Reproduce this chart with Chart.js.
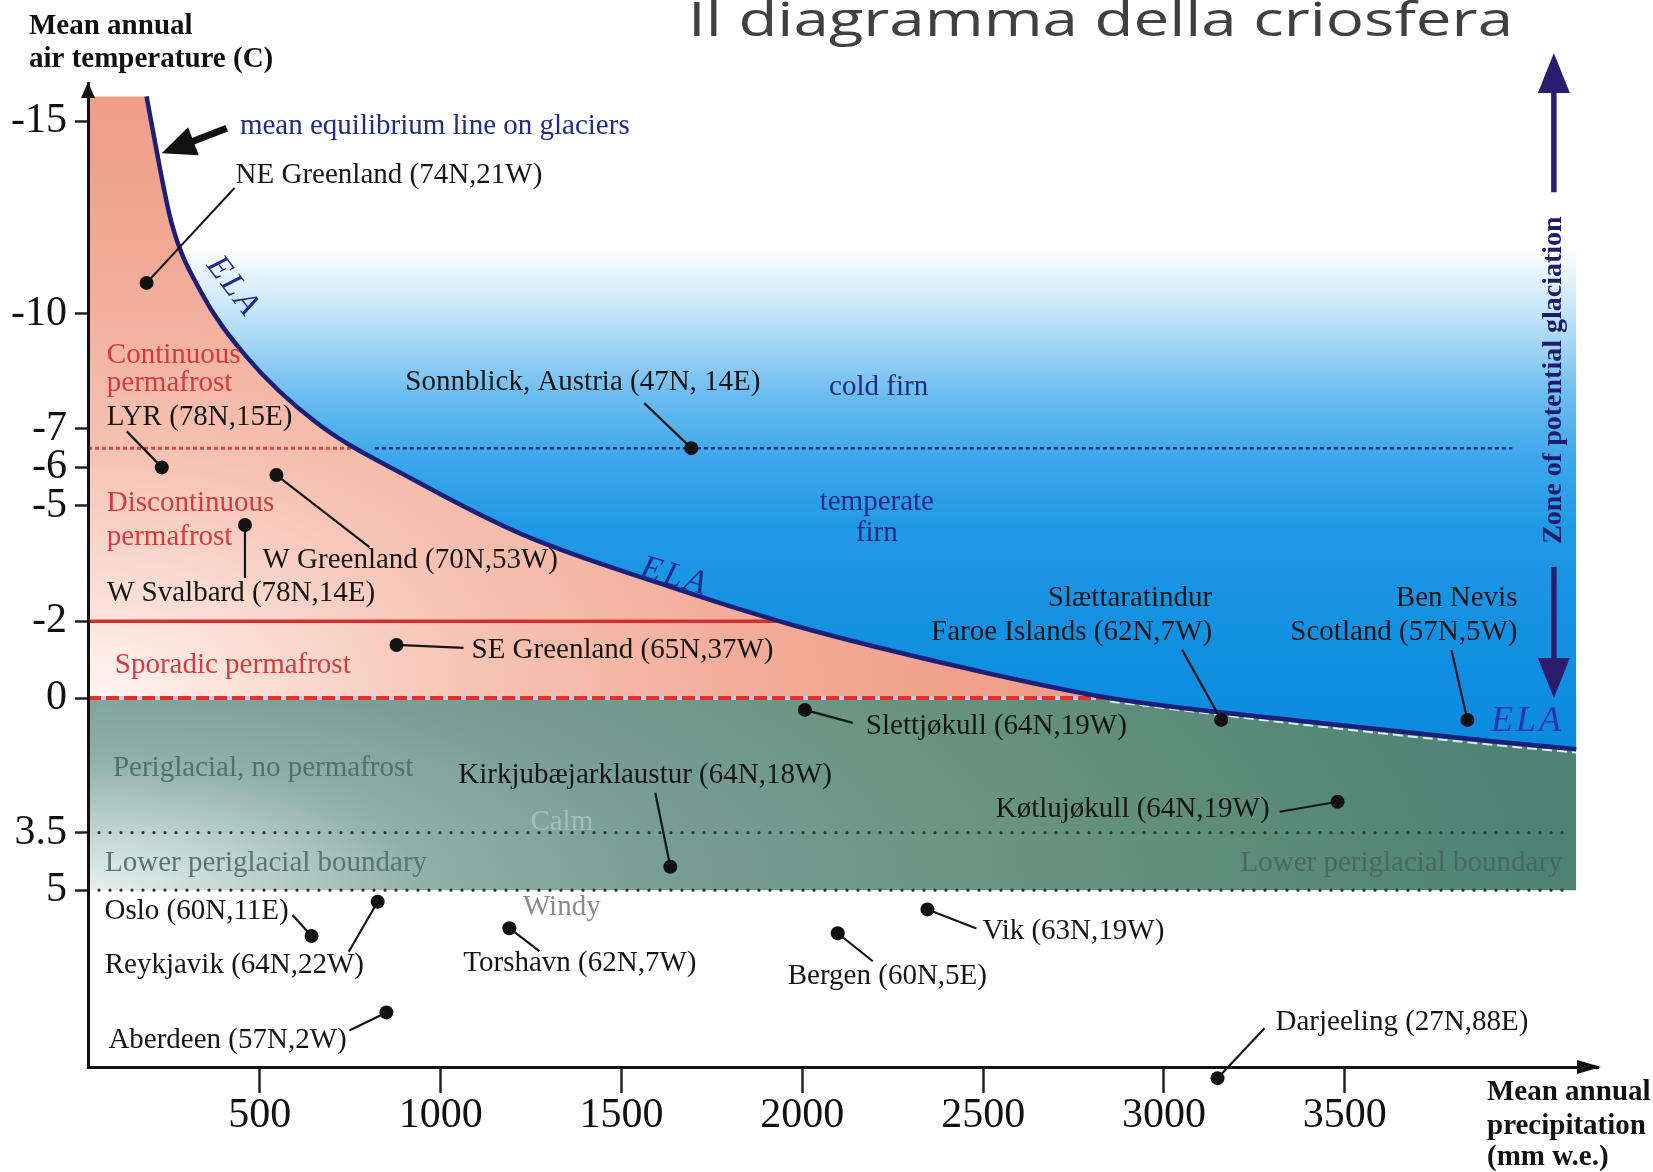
<!DOCTYPE html>
<html>
<head>
<meta charset="utf-8">
<script src="https://cdn.jsdelivr.net/npm/chart.js@4/dist/chart.umd.min.js"></script>
<style>
  html, body { margin: 0; padding: 0; background: #ffffff; }
  #wrap { width: 1653px; height: 1172px; position: relative; }
  canvas { display: block; }
</style>
</head>
<body>
<div id="wrap"><canvas id="cryo" width="1653" height="1172"></canvas></div>
<script>
// ---------------------------------------------------------------
// Cryosphere diagram: mean annual precipitation vs mean annual air
// temperature, with the glacier equilibrium line (ELA), permafrost
// zones and climate stations.
// ---------------------------------------------------------------

// Equilibrium line on glaciers (precipitation mm w.e., temperature °C)
const elaPrecip = [187, 204, 256, 334, 463, 657, 915, 1227, 1600, 1973, 2450, 2850, 3400, 3900, 4140];
const elaTemp   = [-15.65, -14.78, -12.36, -10.62, -8.88, -7.16, -5.73, -4.25, -3.0, -1.9, -0.78, 0.0, 0.62, 1.12, 1.33];

// Climate stations
const placeNames = [
  ['NE Greenland (74N,21W)'],
  ['LYR (78N,15E)'],
  ['W Greenland (70N,53W)'],
  ['W Svalbard (78N,14E)'],
  ['SE Greenland (65N,37W)'],
  ['Sonnblick, Austria (47N, 14E)'],
  ['Slettjøkull (64N,19W)'],
  ['Slættaratindur', 'Faroe Islands (62N,7W)'],
  ['Ben Nevis', 'Scotland (57N,5W)'],
  ['Kirkjubæjarklaustur (64N,18W)'],
  ['Køtlujøkull (64N,19W)'],
  ['Oslo (60N,11E)'],
  ['Reykjavik (64N,22W)'],
  ['Torshavn (62N,7W)'],
  ['Bergen (60N,5E)'],
  ['Vik (63N,19W)'],
  ['Aberdeen (57N,2W)'],
  ['Darjeeling (27N,88E)']
];
const placePrecip = [187, 229, 546, 459, 878, 1693, 2007, 3158, 3839, 1635, 3480, 643, 826, 1190, 2098, 2346, 850, 3148];
const placeTemp   = [-10.8, -6.0, -5.8, -4.5, -1.38, -6.5, 0.31, 0.57, 0.57, 4.39, 2.7, 6.19, 5.3, 5.99, 6.12, 5.5, 8.18, 9.89];

// Axis ticks
const xTickValues = [500, 1000, 1500, 2000, 2500, 3000, 3500];
const yTickValues = [-15, -10, -7, -6, -5, -2, 0, 3.5, 5];

// Zone boundaries (°C) and extents (mm)
const continuousLimit = -6.5;
const discontinuousLimit = -2;
const permafrostLimit = 0;
const calmLimit = 3.5;
const periglacialLimit = 5;
const firnLineRange = [818, 3963];
const periglacialLineEnd = 4108;
const xRange = [25, 4200];
const yRange = [-16, 9.6];

// ---------------------------------------------------------------
const pts = (xs, ys) => xs.map((x, i) => ({ x, y: ys[i] }));
const ela = pts(elaPrecip, elaTemp);
const elaEnd = elaPrecip[elaPrecip.length - 1];

// precipitation at which the equilibrium line reaches a given temperature
function elaCrossing(t) {
  for (let i = 0; i < elaTemp.length - 1; i++) {
    const a = elaTemp[i] - t, b = elaTemp[i + 1] - t;
    if (a * b <= 0 && elaTemp[i + 1] !== elaTemp[i]) {
      return elaPrecip[i] + (t - elaTemp[i]) / (elaTemp[i + 1] - elaTemp[i]) * (elaPrecip[i + 1] - elaPrecip[i]);
    }
  }
  return elaEnd;
}
const cross0 = elaCrossing(permafrostLimit);
const crossCont = elaCrossing(continuousLimit);
const crossDisc = elaCrossing(discontinuousLimit);

const navy = '#222a86';
const red = '#d63a3c';
const ink = '#161616';
const serif = '"Liberation Serif", "Times New Roman", serif';

// ---------------------------------------------------------------
// zone textures painted once into off-screen canvases
const zoneCache = {};
const glacierStops = [[-16, '#ffffff'], [-11.8, '#ffffff'], [-10.6, '#d9eefb'], [-9.2, '#a3d6f5'],
  [-7.8, '#69bbef'], [-6.3, '#3ea8eb'], [-4.5, '#2299e6'], [-1.5, '#1290e2'], [2, '#0a89dd']];
const permafrostStops = [[0, '#fff6f3'], [100, '#fbe0d7'], [250, '#f6c2b3'], [400, '#f3ae9b'], [550, '#f0a08b'], [700, '#ee9782']];
const periglacialStops = [[0, '#e6f0ee'], [60, '#c0d5d0'], [130, '#90b0a8'], [220, '#799e95'], [380, '#66917f'], [560, '#4e8373']];

function zoneFill(chart, kind) {
  if (!chart.chartArea || !chart.scales.y) return 'rgba(0,0,0,0)';
  const key = kind + chart.width + 'x' + chart.height;
  if (zoneCache[key]) return zoneCache[key];
  const w = chart.width, h = chart.height;
  const cv = document.createElement('canvas');
  cv.width = w; cv.height = h;
  const g = cv.getContext('2d');
  const xs = chart.scales.x, ys = chart.scales.y;
  if (kind === 'glacier') {
    const grad = g.createLinearGradient(0, 0, 0, h);
    glacierStops.forEach(([t, c]) => grad.addColorStop(Math.min(1, Math.max(0, ys.getPixelForValue(t) / h)), c));
    g.fillStyle = grad;
    g.fillRect(0, 0, w, h);
  } else {
    const stops = kind === 'permafrost' ? permafrostStops : periglacialStops;
    const cx = xs.getPixelForValue(xRange[0]);
    const cy = ys.getPixelForValue(kind === 'permafrost' ? permafrostLimit : periglacialLimit);
    const sx = kind === 'permafrost' ? 1.6 : 2.6;
    const R = stops[stops.length - 1][0];
    g.save();
    g.translate(cx, cy);
    g.scale(sx, 1);
    const grad = g.createRadialGradient(0, 0, 0, 0, 0, R);
    stops.forEach(([r, c]) => grad.addColorStop(r / R, c));
    g.fillStyle = grad;
    g.fillRect(-cx / sx - 5, -cy - 5, w / sx + 10, h + 10);
    g.restore();
  }
  zoneCache[key] = chart.ctx.createPattern(cv, 'no-repeat');
  return zoneCache[key];
}

// ---------------------------------------------------------------
// Layout of station labels: leader end and text anchor, in pixels from the dot
const placeLabelLayout = [
  [88, -95, 89, -107, 'left'],
  [-35, -36, -55, -50, 'left'],
  [93, 72, -14, 85, 'left'],
  [0, 53, -138, 68, 'left'],
  [67, 3, 75, 5, 'left'],
  [-47, -45, -286, -66, 'left'],
  [48, 13, 61, 16, 'left'],
  [-39, -70, -9, -122, 'right'],
  [-16, -70, 50, -122, 'right'],
  [-15, -74, -212, -91, 'left'],
  [-58, 10, -68, 8, 'right'],
  [-19, -21, -207, -25, 'left'],
  [-29, 50, -273, 64, 'left'],
  [30, 23, -46, 35, 'left'],
  [35, 28, -50, 43, 'left'],
  [49, 19, 55, 22, 'left'],
  [-37, 18, -278, 28, 'left'],
  [47, -50, 58, -56, 'left']
];

// Zone captions placed in data coordinates
const zoneNotes = [
  { text: 'mean equilibrium line on glaciers', p: 445, t: -14.88, align: 'left', color: navy },
  { text: 'Continuous', p: 77, t: -8.92, align: 'left', color: red },
  { text: 'permafrost', p: 77, t: -8.19, align: 'left', color: red },
  { text: 'Discontinuous', p: 77, t: -5.07, align: 'left', color: red },
  { text: 'permafrost', p: 77, t: -4.19, align: 'left', color: red },
  { text: 'Sporadic permafrost', p: 99, t: -0.86, align: 'left', color: red },
  { text: 'cold firn', p: 2211, t: -8.09, align: 'center', color: navy },
  { text: 'temperate', p: 2206, t: -5.10, align: 'center', color: navy },
  { text: 'firn', p: 2206, t: -4.29, align: 'center', color: navy },
  { text: 'Periglacial, no permafrost', p: 94, t: 1.82, align: 'left', color: '#52716a' },
  { text: 'Calm', p: 1335, t: 3.23, align: 'center', color: '#a9bdb8' },
  { text: 'Lower periglacial boundary', p: 72, t: 4.29, align: 'left', color: '#587570' },
  { text: 'Lower periglacial boundary', p: 4102, t: 4.29, align: 'right', color: '#4a6861' },
  { text: 'Windy', p: 1335, t: 5.44, align: 'center', color: '#8a8a8a' }
];

const elaNotes = [
  { p: 426, t: -10.69, angle: 53, size: 33, color: '#1f2c8e' },
  { p: 1647, t: -3.15, angle: 16, size: 34, color: '#1f2c8e' },
  { p: 4005, t: 0.62, angle: 0, size: 36, color: '#2a36b0' }
];

const equilibriumArrow = { from: [408.5, -14.82], to: [228.8, -14.17] };
const glaciationArrow = { p: 4078, upTip: -16.78, upEnd: -13.16, downStart: -3.41, downTip: 0, textT: -8.27 };

// ---------------------------------------------------------------
function arrowHead(ctx, x1, y1, x2, y2, len, half) {
  const a = Math.atan2(y2 - y1, x2 - x1);
  ctx.beginPath();
  ctx.moveTo(x2, y2);
  ctx.lineTo(x2 - len * Math.cos(a) + half * Math.sin(a), y2 - len * Math.sin(a) - half * Math.cos(a));
  ctx.lineTo(x2 - len * Math.cos(a) - half * Math.sin(a), y2 - len * Math.sin(a) + half * Math.cos(a));
  ctx.closePath();
  ctx.fill();
}

const cryoPlugin = {
  id: 'cryoDecor',
  beforeDatasetDraw(chart, args) {
    const ds = chart.data.datasets[args.index];
    const ctx = chart.ctx;
    if (ds.pixelShift) {
      ctx.save();
      ctx.translate(0, ds.pixelShift);
    }
    if (ds.isStations) {
      // leader lines run under the station dots
      const xs = chart.scales.x, ys = chart.scales.y;
      ctx.save();
      ctx.strokeStyle = ink;
      ctx.lineWidth = 2.2;
      placePrecip.forEach((p, i) => {
        const x = xs.getPixelForValue(p), y = ys.getPixelForValue(placeTemp[i]);
        const L = placeLabelLayout[i];
        ctx.beginPath();
        ctx.moveTo(x, y);
        ctx.lineTo(x + L[0], y + L[1]);
        ctx.stroke();
      });
      ctx.restore();
    }
  },
  afterDatasetDraw(chart, args) {
    const ds = chart.data.datasets[args.index];
    const ctx = chart.ctx;
    if (ds.pixelShift) ctx.restore();
    if (ds.isStations) {
      // stations lying outside the plotting frame (e.g. below the x axis)
      const a = chart.chartArea;
      const meta = chart.getDatasetMeta(args.index);
      ctx.save();
      ctx.fillStyle = ds.pointBackgroundColor;
      meta.data.forEach(el => {
        if (el.x < a.left || el.x > a.right || el.y < a.top || el.y > a.bottom) {
          ctx.beginPath();
          ctx.arc(el.x, el.y, ds.pointRadius, 0, Math.PI * 2);
          ctx.fill();
        }
      });
      ctx.restore();
    }
  },
  afterDatasetsDraw(chart) {
    const ctx = chart.ctx;
    const xs = chart.scales.x, ys = chart.scales.y;
    const X = v => xs.getPixelForValue(v), Y = v => ys.getPixelForValue(v);
    ctx.save();
    ctx.textBaseline = 'middle';

    // zone captions
    ctx.font = '29px ' + serif;
    zoneNotes.forEach(n => {
      ctx.fillStyle = n.color;
      ctx.textAlign = n.align;
      ctx.fillText(n.text, X(n.p), Y(n.t));
    });

    // ELA labels along the curve
    elaNotes.forEach(n => {
      ctx.save();
      ctx.translate(X(n.p), Y(n.t));
      ctx.rotate(n.angle * Math.PI / 180);
      ctx.font = 'italic ' + n.size + 'px ' + serif;
      ctx.letterSpacing = '3px';
      ctx.fillStyle = n.color;
      ctx.textAlign = 'center';
      ctx.fillText('ELA', 0, 0);
      ctx.restore();
    });

    // station labels
    ctx.font = '29px ' + serif;
    ctx.fillStyle = ink;
    placePrecip.forEach((p, i) => {
      const x = X(p), y = Y(placeTemp[i]);
      const L = placeLabelLayout[i];
      ctx.textAlign = L[4];
      placeNames[i].forEach((line, k) => ctx.fillText(line, x + L[2], y + L[3] + k * 34));
    });

    // arrow pointing at the equilibrium line
    const a0x = X(equilibriumArrow.from[0]), a0y = Y(equilibriumArrow.from[1]);
    const a1x = X(equilibriumArrow.to[0]), a1y = Y(equilibriumArrow.to[1]);
    ctx.strokeStyle = '#111';
    ctx.fillStyle = '#111';
    ctx.lineWidth = 7;
    const ang = Math.atan2(a1y - a0y, a1x - a0x);
    ctx.beginPath();
    ctx.moveTo(a0x, a0y);
    ctx.lineTo(a1x - 28 * Math.cos(ang), a1y - 28 * Math.sin(ang));
    ctx.stroke();
    arrowHead(ctx, a0x, a0y, a1x, a1y, 34, 15);

    // zone of potential glaciation
    const gx = X(glaciationArrow.p);
    ctx.strokeStyle = '#2b1d6e';
    ctx.fillStyle = '#2b1d6e';
    ctx.lineWidth = 5.5;
    const upTip = Y(glaciationArrow.upTip), upEnd = Y(glaciationArrow.upEnd);
    const dnStart = Y(glaciationArrow.downStart), dnTip = Y(glaciationArrow.downTip);
    ctx.beginPath();
    ctx.moveTo(gx, upEnd); ctx.lineTo(gx, upTip + 30);
    ctx.moveTo(gx, dnStart); ctx.lineTo(gx, dnTip - 30);
    ctx.stroke();
    arrowHead(ctx, gx, upEnd, gx, upTip, 40, 16);
    arrowHead(ctx, gx, dnStart, gx, dnTip, 40, 16);
    ctx.save();
    ctx.translate(gx, Y(glaciationArrow.textT));
    ctx.rotate(-Math.PI / 2);
    ctx.font = 'bold 28px ' + serif;
    ctx.fillStyle = '#1f1b6b';
    ctx.textAlign = 'center';
    ctx.fillText('Zone of potential glaciation', 0, 0);
    ctx.restore();
    ctx.restore();
  },
  afterDraw(chart) {
    const ctx = chart.ctx;
    const area = chart.chartArea;
    ctx.save();
    // axis arrow heads
    ctx.fillStyle = '#111';
    arrowHead(ctx, area.left, area.top + 40, area.left, area.top - 1, 16, 7);
    arrowHead(ctx, area.right - 40, area.bottom, area.right + 3, area.bottom, 24, 7);

    // axis titles
    ctx.font = 'bold 29px ' + serif;
    ctx.fillStyle = '#111';
    ctx.textAlign = 'left';
    ctx.textBaseline = 'middle';
    ctx.fillText('Mean annual', 29, 27);
    ctx.fillText('air temperature (C)', 29, 60);
    ctx.fillText('Mean annual', 1487, 1093);
    ctx.fillText('precipitation', 1487, 1127);
    ctx.fillText('(mm w.e.)', 1487, 1158);

    // slide title
    const title = 'Il diagramma della criosfera';
    ctx.font = '400 47px "Open Sans", sans-serif';
    const tw = ctx.measureText(title).width;
    ctx.translate(688, 36);
    ctx.scale(825 / tw, 1);
    ctx.fillStyle = '#404040';
    ctx.textBaseline = 'alphabetic';
    ctx.fillText(title, 0, 0);
    ctx.restore();
  }
};

// ---------------------------------------------------------------
const flat = (t, from, to) => [{ x: from, y: t }, { x: to, y: t }];
const lineBase = { pointRadius: 0, fill: false, borderCapStyle: 'butt' };

const datasets = [
  // periglacial band from 0 °C to 5 °C (the glacier fill covers it above the ELA)
  Object.assign({}, lineBase, {
    data: flat(permafrostLimit, xRange[0], elaEnd), borderWidth: 0,
    fill: { value: periglacialLimit }, backgroundColor: c => zoneFill(c.chart, 'periglacial'), order: 42
  }),
  // permafrost band from the top of the line down to 0 °C
  Object.assign({}, lineBase, {
    data: flat(elaTemp[0], xRange[0], cross0), borderWidth: 0,
    fill: { value: permafrostLimit }, backgroundColor: c => zoneFill(c.chart, 'permafrost'), order: 41
  }),
  // glacier zone above the equilibrium line
  Object.assign({}, lineBase, {
    data: ela, borderWidth: 0, cubicInterpolationMode: 'monotone',
    fill: { value: yRange[0] }, backgroundColor: c => zoneFill(c.chart, 'glacier'), order: 40
  }),
  // boundaries
  Object.assign({}, lineBase, { data: flat(continuousLimit, xRange[0], crossCont), borderColor: '#e04646', borderWidth: 3, borderDash: [4, 3], order: 20 }),
  Object.assign({}, lineBase, { data: flat(continuousLimit, firnLineRange[0], firnLineRange[1]), borderColor: '#1d2a86', borderWidth: 2.5, borderDash: [4, 3], order: 20 }),
  Object.assign({}, lineBase, { data: flat(discontinuousLimit, xRange[0], crossDisc), borderColor: '#d42e2e', borderWidth: 3.5, order: 20 }),
  Object.assign({}, lineBase, { data: flat(permafrostLimit, xRange[0], cross0), borderColor: '#a9d6ef', borderWidth: 4, order: 21 }),
  Object.assign({}, lineBase, { data: flat(permafrostLimit, xRange[0], cross0), borderColor: '#e2332b', borderWidth: 4, borderDash: [13, 5], order: 20 }),
  Object.assign({}, lineBase, { data: flat(calmLimit, xRange[0], periglacialLineEnd), borderColor: '#333333', borderWidth: 3.2, borderDash: [0, 11], borderCapStyle: 'round', order: 20 }),
  Object.assign({}, lineBase, { data: flat(periglacialLimit, xRange[0], periglacialLineEnd), borderColor: '#333333', borderWidth: 3.2, borderDash: [0, 11], borderCapStyle: 'round', order: 20 }),
  // pale edge under the equilibrium line where it meets the periglacial zone
  Object.assign({}, lineBase, {
    data: ela.filter(p => p.y >= permafrostLimit),
    borderColor: 'rgba(226,242,250,0.95)', borderWidth: 2, borderDash: [10, 5],
    cubicInterpolationMode: 'monotone', pixelShift: 3.5, order: 12
  }),
  // equilibrium line
  Object.assign({}, lineBase, {
    data: ela, borderColor: '#1b1f78', borderWidth: 4.5, cubicInterpolationMode: 'monotone', order: 10
  }),
  // stations
  {
    data: pts(placePrecip, placeTemp), showLine: false, pointRadius: 7, pointHoverRadius: 7,
    pointBackgroundColor: '#111', pointBorderWidth: 0, clip: false, isStations: true, order: 1
  }
];

new Chart(document.getElementById('cryo'), {
  type: 'line',
  data: { datasets },
  plugins: [cryoPlugin],
  options: {
    responsive: false,
    animation: false,
    devicePixelRatio: 1,
    events: [],
    layout: { padding: { top: 83, right: 55, bottom: 0, left: 0 }, autoPadding: false },
    plugins: { legend: { display: false }, tooltip: { enabled: false }, title: { display: false } },
    scales: {
      x: {
        type: 'linear', min: xRange[0], max: xRange[1],
        afterBuildTicks: s => { s.ticks = xTickValues.map(v => ({ value: v })); },
        afterFit: s => { s.height = 105; },
        ticks: { font: { family: 'Liberation Serif', size: 42, lineHeight: 1 }, color: '#111', padding: 2, autoSkip: false, maxRotation: 0, callback: v => String(v) },
        grid: { drawOnChartArea: false, tickLength: 26, tickColor: '#222', tickWidth: 2.5 },
        border: { display: true, color: '#111', width: 3, z: 1 }
      },
      y: {
        type: 'linear', reverse: true, min: yRange[0], max: yRange[1],
        afterBuildTicks: s => { s.ticks = yTickValues.map(v => ({ value: v })); },
        afterFit: s => { s.width = 88; },
        ticks: { font: { family: 'Liberation Serif', size: 42, lineHeight: 1 }, color: '#111', padding: 8, autoSkip: false, callback: v => String(v) },
        grid: { drawOnChartArea: false, tickLength: 13, tickColor: '#222', tickWidth: 2.5 },
        border: { display: true, color: '#111', width: 3, z: 1 }
      }
    }
  }
});
</script>
</body>
</html>
